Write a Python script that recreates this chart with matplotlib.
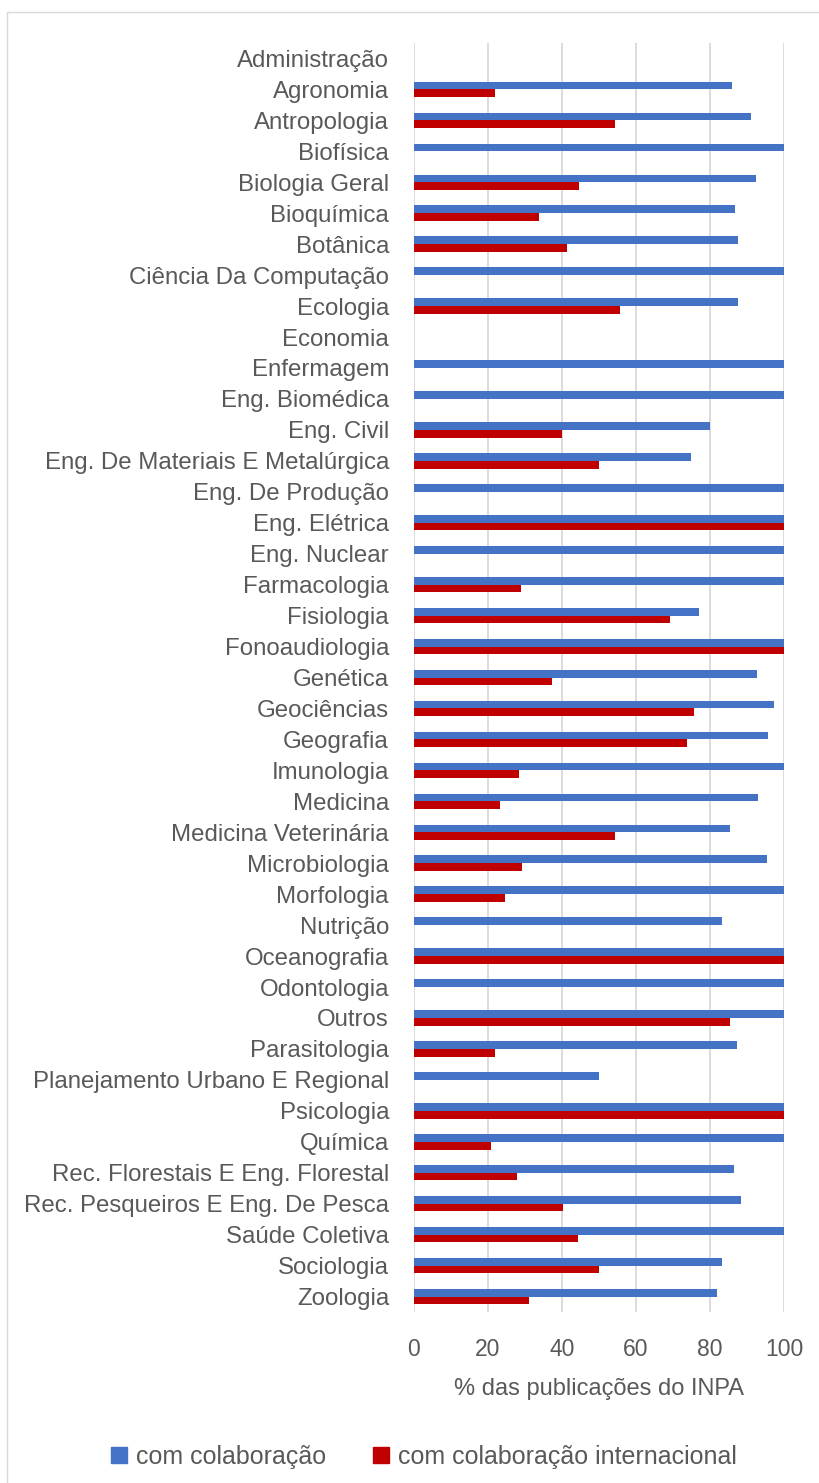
import matplotlib
matplotlib.use("Agg")
import matplotlib.pyplot as plt
import numpy as np
from matplotlib.patches import Patch, Rectangle

plt.rcParams["font.family"] = ["Liberation Sans", "DejaVu Sans"]

categories = [
    "Administração", "Agronomia", "Antropologia", "Biofísica", "Biologia Geral",
    "Bioquímica", "Botânica", "Ciência Da Computação", "Ecologia", "Economia",
    "Enfermagem", "Eng. Biomédica", "Eng. Civil", "Eng. De Materiais E Metalúrgica",
    "Eng. De Produção", "Eng. Elétrica", "Eng. Nuclear", "Farmacologia", "Fisiologia",
    "Fonoaudiologia", "Genética", "Geociências", "Geografia", "Imunologia", "Medicina",
    "Medicina Veterinária", "Microbiologia", "Morfologia", "Nutrição", "Oceanografia",
    "Odontologia", "Outros", "Parasitologia", "Planejamento Urbano E Regional",
    "Psicologia", "Química", "Rec. Florestais E Eng. Florestal",
    "Rec. Pesqueiros E Eng. De Pesca", "Saúde Coletiva", "Sociologia", "Zoologia",
]

com_colaboracao = [
    0, 86, 91, 100, 92.3, 86.7, 87.6, 100, 87.6, 0,
    100, 100, 80, 75, 100, 100, 100, 100, 76.9, 100,
    92.6, 97.2, 95.8, 100, 93, 85.5, 95.4, 100, 83.2, 100,
    100, 100, 87.4, 50, 100, 100, 86.5, 88.3, 100, 83.2, 81.8,
]

com_colaboracao_internacional = [
    0, 21.8, 54.2, 0, 44.5, 33.9, 41.3, 0, 55.6, 0,
    0, 0, 40, 50, 0, 100, 0, 28.8, 69.2, 100,
    37.2, 75.8, 73.9, 28.4, 23.2, 54.4, 29.3, 24.7, 0, 100,
    0, 85.5, 21.9, 0, 100, 20.9, 27.9, 40.4, 44.2, 50, 31.2,
]

x_ticks = [0, 20, 40, 60, 80, 100]
x_label = "% das publicações do INPA"
series_names = ["com colaboração", "com colaboração internacional"]

BLUE = "#4472C4"
RED = "#C00000"
TEXT = "#595959"
GRID = "#D9D9D9"

W, H = 819, 1483
fig = plt.figure(figsize=(W / 100, H / 100), dpi=100)

# outer chart-area border
fig.patches.append(Rectangle((7 / W, -0.05), 1.2, 1 - 12 / H + 0.05,
                             transform=fig.transFigure, fill=False,
                             edgecolor=GRID, linewidth=1.0))

ax = fig.add_axes([414 / W, 1 - 1312 / H, 370 / W, (1312 - 43) / H])

y = np.arange(len(categories))
h = 0.25
ax.barh(y - h / 2, com_colaboracao, height=h, color=BLUE, zorder=3)
ax.barh(y + h / 2, com_colaboracao_internacional, height=h, color=RED, zorder=3)

ax.set_xlim(0, 100)
ax.set_ylim(len(categories) - 0.5, -0.5)
ax.set_xticks(x_ticks)
ax.set_yticks(y)
ax.set_yticklabels(categories)
ax.tick_params(axis="y", length=0, pad=18, labelsize=17.3, labelcolor=TEXT)
ax.tick_params(axis="x", length=0, pad=19, labelsize=16.5, labelcolor=TEXT)
ax.xaxis.grid(True, color=GRID, linewidth=1.3, zorder=0)
for s in ax.spines.values():
    s.set_visible(False)
ax.set_xlabel(x_label, fontsize=17, color=TEXT, labelpad=12)

handles = [Patch(color=BLUE), Patch(color=RED)]
fig.legend(handles, series_names, loc="center", ncol=2,
           bbox_to_anchor=(424 / W, 1 - 1457 / H), frameon=False,
           fontsize=18, labelcolor=TEXT, handlelength=0.64, handleheight=0.64,
           handletextpad=0.35, columnspacing=1.9)

fig.savefig("out.png", dpi=100)
